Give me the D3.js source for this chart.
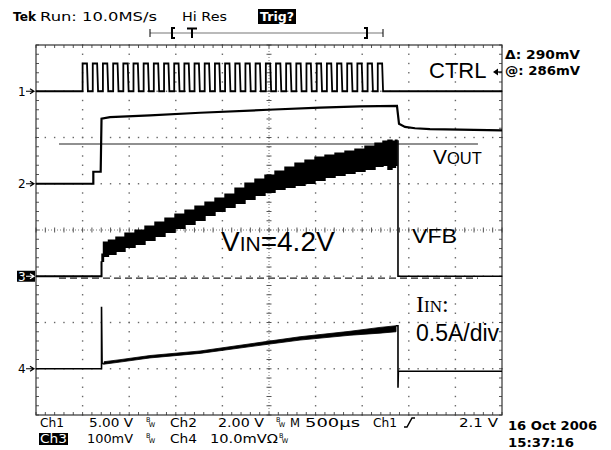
<!DOCTYPE html>
<html>
<head>
<meta charset="utf-8">
<script src="https://cdn.jsdelivr.net/npm/d3@7"></script>
<style>
  html, body { margin: 0; padding: 0; background: #fff; }
  svg { display: block; }
</style>
</head>
<body>
<svg id="scope" width="611" height="450"></svg>
<script>
// ---------------- acquisition data (time in ms, 500 µs/div) ----------------

// CH1 – CTRL pulse train (V)
const ctrlRiseMs = [0.500, 0.609, 0.718, 0.828, 0.937, 1.046, 1.155, 1.264, 1.374, 1.483,
                    1.592, 1.701, 1.810, 1.920, 2.029, 2.138, 2.247, 2.356, 2.466, 2.575,
                    2.684, 2.793, 2.902, 3.012, 3.121, 3.230, 3.339, 3.448, 3.558, 3.667];
const ctrlHighWidthMs = 0.053;
const ctrlHighV = 3.0;

// CH2 – VOUT (V)
const voutTimeMs = [0, 0.615, 0.615, 0.694, 0.703, 0.794, 1.223, 1.760, 2.489, 3.047, 3.476, 3.873,
                    3.895, 3.959, 4.067, 4.227, 4.549, 5.0];
const voutVolts  = [0, 0, 0.52, 0.52, 2.81, 2.88, 2.96, 3.07, 3.20, 3.29, 3.35, 3.37,
                    2.59, 2.46, 2.40, 2.36, 2.34, 2.31];

// CH3 – VFB ripple envelope (mV)
const vfbStartMs = 0.703;
const vfbEndMs = 3.884;
const vfbTimeMs = [0.708, 0.740, 0.815, 0.901, 1.009, 1.116, 1.223, 1.330, 1.438, 1.545,
                   1.652, 1.760, 1.867, 1.974, 2.082, 2.189, 2.296, 2.403, 2.511, 2.618,
                   2.725, 2.833, 2.940, 3.047, 3.155, 3.262, 3.369, 3.476, 3.584, 3.691,
                   3.755, 3.798, 3.841, 3.873];
const vfbUpperMv = [47.6, 73.5, 77.8, 84.3, 93.0, 99.5, 108.1, 116.8, 125.4, 134.0,
                    142.7, 151.3, 160.0, 168.6, 177.3, 190.3, 201.1, 209.7, 218.4, 227.0,
                    235.7, 244.3, 250.8, 257.3, 261.6, 265.9, 270.3, 274.6, 281.1, 287.5,
                    291.9, 294.0, 291.9, 294.0];
const vfbLowerMv = [32.4, 43.2, 47.6, 54.1, 62.7, 69.2, 77.8, 86.5, 95.1, 103.8,
                    112.4, 121.1, 131.9, 140.5, 149.2, 157.8, 166.5, 175.1, 181.6, 188.1,
                    192.4, 196.7, 201.1, 207.6, 214.0, 218.4, 222.7, 227.0, 231.3, 237.8,
                    240.0, 231.3, 235.7, 240.0];

// CH4 – IIN (A)
const iinStartMs = 0.703;
const iinSpikeA = 0.67;
const iinTimeMs = [0.730, 0.901, 1.223, 1.760, 2.489, 2.833, 3.369, 3.691, 3.863];
const iinUpperA = [0.076, 0.098, 0.143, 0.192, 0.297, 0.346, 0.405, 0.447, 0.465];
const iinLowerA = [0.050, 0.072, 0.117, 0.166, 0.265, 0.310, 0.362, 0.385, 0.400];
const iinEndMs = 3.884;
const iinUndershootA = -0.205;
const iinAfterA = -0.027;

// Cursors on CH3 (mV) and their horizontal extent (ms)
const cursorLevelsMv = [-4, 286];
const cursorSpanMs = [0.247, 4.742];

// Channel scale settings: units per division and ground marker position (div)
const chPerDiv = [5, 2, 100, 0.5];
const chGroundDiv = [3, 1, -1, -3];
const chMarkers = ["1", "2", "3", "4"];

// Readout texts
const headerTexts = ["Tek", "Run: 10.0MS/s", "Hi Res", "Trig?"];
const cursorTexts = ["\u0394: 290mV", "@: 286mV"];
const dateTexts = ["16 Oct 2006", "15:37:16"];

// ---------------- drawing ----------------
const svg = d3.select("#scope");
svg.append("rect").attr("width", 611).attr("height", 450).attr("fill", "#fff");

const x = d3.scaleLinear().domain([0, 5]).range([36, 502]);
const div = d3.scaleLinear().domain([-4, 4]).range([415, 45]);
function channelScale(i) {
  const p = chPerDiv[i], o = chGroundDiv[i];
  return d3.scaleLinear().domain([(-4 - o) * p, (4 - o) * p]).range([415, 45]);
}
const y1 = channelScale(0), y2 = channelScale(1), y3 = channelScale(2), y4 = channelScale(3);

// graticule
const grat = svg.append("g");
const stepsX = d3.range(0, 51).map(i => i * 0.1);
const stepsY = d3.range(0, 41).map(i => -4 + i * 0.2);
const majorX = d3.range(1, 10).filter(i => i !== 5).map(i => i * 0.5);
const majorY = [-3, -2, -1, 1, 2, 3];
const dots = [];
majorX.forEach(t => stepsY.forEach(d => dots.push([x(t), div(d)])));
majorY.forEach(d => stepsX.forEach(t => dots.push([x(t), div(d)])));
grat.selectAll("rect.dot").data(dots).join("rect").attr("class", "dot")
  .attr("x", d => d[0] - 0.7).attr("y", d => d[1] - 0.7)
  .attr("width", 1.4).attr("height", 1.4).attr("fill", "#666");

// centre axes with fine dots and minor ticks
grat.append("line").attr("x1", x(0)).attr("x2", x(5)).attr("y1", div(0)).attr("y2", div(0))
  .attr("stroke", "#777").attr("stroke-width", 1).attr("stroke-dasharray", "1,2");
grat.append("line").attr("x1", x(2.5)).attr("x2", x(2.5)).attr("y1", div(4)).attr("y2", div(-4))
  .attr("stroke", "#777").attr("stroke-width", 1).attr("stroke-dasharray", "1,2");
grat.selectAll("line.tx").data(stepsX).join("line").attr("class", "tx")
  .attr("x1", d => x(d)).attr("x2", d => x(d))
  .attr("y1", div(0) - 2.5).attr("y2", div(0) + 2.5).attr("stroke", "#555");
grat.selectAll("line.ty").data(stepsY).join("line").attr("class", "ty")
  .attr("y1", d => div(d)).attr("y2", d => div(d))
  .attr("x1", x(2.5) - 2.5).attr("x2", x(2.5) + 2.5).attr("stroke", "#555");

// frame with edge ticks
grat.selectAll("line.et").data(stepsX).join("line").attr("class", "et")
  .attr("x1", d => x(d)).attr("x2", d => x(d)).attr("y1", div(4)).attr("y2", div(4) + 3).attr("stroke", "#555");
grat.selectAll("line.eb").data(stepsX).join("line").attr("class", "eb")
  .attr("x1", d => x(d)).attr("x2", d => x(d)).attr("y1", div(-4)).attr("y2", div(-4) - 3).attr("stroke", "#555");
grat.selectAll("line.el").data(stepsY).join("line").attr("class", "el")
  .attr("y1", d => div(d)).attr("y2", d => div(d)).attr("x1", x(0)).attr("x2", x(0) + 3).attr("stroke", "#555");
grat.selectAll("line.er").data(stepsY).join("line").attr("class", "er")
  .attr("y1", d => div(d)).attr("y2", d => div(d)).attr("x1", x(5)).attr("x2", x(5) - 3).attr("stroke", "#555");
grat.append("rect").attr("x", x(0)).attr("y", div(4))
  .attr("width", x(5) - x(0)).attr("height", div(-4) - div(4))
  .attr("fill", "none").attr("stroke", "#333").attr("stroke-width", 1.2);

// cursors
svg.append("line").attr("x1", x(cursorSpanMs[0])).attr("x2", x(cursorSpanMs[1]))
  .attr("y1", y3(cursorLevelsMv[0])).attr("y2", y3(cursorLevelsMv[0]))
  .attr("stroke", "#222").attr("stroke-width", 1.2).attr("stroke-dasharray", "7,4");
svg.append("line").attr("x1", x(cursorSpanMs[0])).attr("x2", x(cursorSpanMs[1]))
  .attr("y1", y3(cursorLevelsMv[1])).attr("y2", y3(cursorLevelsMv[1]))
  .attr("stroke", "#222").attr("stroke-width", 1.2);

const traces = svg.append("g");
const line = d3.line();

// CH1 CTRL
const ctrlPts = [[0, 0]];
ctrlRiseMs.forEach(r => {
  ctrlPts.push([r, 0], [r, ctrlHighV], [r + ctrlHighWidthMs - 0.006, ctrlHighV], [r + ctrlHighWidthMs + 0.004, 0]);
});
ctrlPts.push([5, 0]);
traces.append("path").attr("d", line(ctrlPts.map(p => [x(p[0]), y1(p[1])])))
  .attr("fill", "none").attr("stroke", "#000").attr("stroke-width", 1.8).attr("stroke-linejoin", "miter");

// CH2 VOUT
traces.append("path").attr("d", line(voutTimeMs.map((t, i) => [x(t), y2(voutVolts[i])])))
  .attr("fill", "none").attr("stroke", "#000").attr("stroke-width", 2.2);

// CH3 VFB
traces.append("path").attr("d", line([[0, 0], [vfbStartMs, 0], [vfbStartMs, vfbLowerMv[0]]].map(p => [x(p[0]), y3(p[1])])))
  .attr("fill", "none").attr("stroke", "#000").attr("stroke-width", 2);
const vfbArea = d3.area().curve(d3.curveStep).x(d => x(d.t)).y0(d => y3(d.lo)).y1(d => y3(d.hi));
traces.append("path")
  .attr("d", vfbArea(vfbTimeMs.map((t, i) => ({ t, lo: vfbLowerMv[i], hi: vfbUpperMv[i] }))))
  .attr("fill", "#000").attr("stroke", "#000").attr("stroke-width", 1.4);
traces.append("path").attr("d", line([[vfbEndMs, vfbUpperMv[vfbUpperMv.length - 1]], [vfbEndMs, 0], [5, 0]].map(p => [x(p[0]), y3(p[1])])))
  .attr("fill", "none").attr("stroke", "#000").attr("stroke-width", 1.6);

// CH4 IIN
traces.append("path").attr("d", line([[0, 0], [iinStartMs, 0], [iinStartMs, iinSpikeA], [iinStartMs + 0.006, iinLowerA[0] + 0.01], [iinTimeMs[0], iinLowerA[0]]].map(p => [x(p[0]), y4(p[1])])))
  .attr("fill", "none").attr("stroke", "#000").attr("stroke-width", 1.6);
const iinArea = d3.area().x(d => x(d.t)).y0(d => y4(d.lo)).y1(d => y4(d.hi));
traces.append("path")
  .attr("d", iinArea(iinTimeMs.map((t, i) => ({ t, lo: iinLowerA[i], hi: iinUpperA[i] }))))
  .attr("fill", "#000").attr("stroke", "#000").attr("stroke-width", 0.8);
traces.append("path").attr("d", line([[iinTimeMs[iinTimeMs.length - 1], iinUpperA[iinUpperA.length - 1]], [iinEndMs, iinUpperA[iinUpperA.length - 1]],
  [iinEndMs, iinUndershootA], [iinEndMs + 0.004, iinAfterA], [5, iinAfterA]].map(p => [x(p[0]), y4(p[1])])))
  .attr("fill", "none").attr("stroke", "#000").attr("stroke-width", 1.6);

// ground markers
const mono = "DejaVu Sans";
chMarkers.forEach((m, i) => {
  const gy = div(chGroundDiv[i]);
  const inv = m === "3";
  if (inv) svg.append("rect").attr("x", 17).attr("y", gy - 5.5).attr("width", 18).attr("height", 11).attr("fill", "#000");
  svg.append("text").attr("x", 18).attr("y", gy + 4.5).text(m)
    .attr("font-family", mono).attr("font-size", 12).attr("fill", inv ? "#fff" : "#000");
  svg.append("path").attr("d", `M26,${gy}H33M30,${gy - 2.5}L34,${gy}L30,${gy + 2.5}`)
    .attr("fill", "none").attr("stroke", inv ? "#fff" : "#000").attr("stroke-width", 1.2);
});

// header
svg.append("text").attr("x", 13).attr("y", 21).text(headerTexts[0])
  .attr("font-family", mono).attr("font-weight", "bold").attr("font-size", 12.5)
  .attr("textLength", 23).attr("lengthAdjust", "spacingAndGlyphs");
svg.append("text").attr("x", 40).attr("y", 21).text(headerTexts[1])
  .attr("font-family", mono).attr("font-size", 12.5).attr("textLength", 117).attr("lengthAdjust", "spacingAndGlyphs");
svg.append("text").attr("x", 182).attr("y", 21).text(headerTexts[2])
  .attr("font-family", mono).attr("font-size", 12.5).attr("textLength", 45).attr("lengthAdjust", "spacingAndGlyphs");
svg.append("rect").attr("x", 258).attr("y", 9).attr("width", 38).attr("height", 15).attr("fill", "#000");
svg.append("text").attr("x", 260).attr("y", 21).text(headerTexts[3])
  .attr("font-family", mono).attr("font-weight", "bold").attr("font-size", 12).attr("fill", "#fff")
  .attr("textLength", 34).attr("lengthAdjust", "spacingAndGlyphs");

// record bracket
const br = svg.append("g").attr("stroke", "#000");
br.append("line").attr("x1", 150).attr("x2", 383).attr("y1", 33).attr("y2", 33).attr("stroke", "#777").attr("stroke-width", 1.2);
br.append("line").attr("x1", 150).attr("x2", 150).attr("y1", 29).attr("y2", 37).attr("stroke-width", 1);
br.append("line").attr("x1", 383).attr("x2", 383).attr("y1", 29).attr("y2", 37).attr("stroke-width", 1);
br.append("path").attr("d", "M175,28H172V38H175").attr("fill", "none").attr("stroke-width", 2);
br.append("path").attr("d", "M364,28H367V38H364").attr("fill", "none").attr("stroke-width", 2);
br.append("path").attr("d", "M187,28.5H197M192,28.5V38").attr("fill", "none").attr("stroke-width", 2);

// cursor readouts
svg.append("text").attr("x", 505).attr("y", 59).text(cursorTexts[0])
  .attr("font-family", mono).attr("font-weight", "bold").attr("font-size", 12).attr("textLength", 75).attr("lengthAdjust", "spacingAndGlyphs");
svg.append("text").attr("x", 505).attr("y", 75).text(cursorTexts[1])
  .attr("font-family", mono).attr("font-weight", "bold").attr("font-size", 12).attr("textLength", 75).attr("lengthAdjust", "spacingAndGlyphs");
svg.append("path").attr("d", "M493,72L498,68.5V75.5Z").attr("fill", "#000");
svg.append("line").attr("x1", 496).attr("x2", 502).attr("y1", 72).attr("y2", 72).attr("stroke", "#000").attr("stroke-width", 1.3);

// date
svg.append("text").attr("x", 508).attr("y", 430).text(dateTexts[0])
  .attr("font-family", mono).attr("font-weight", "bold").attr("font-size", 12.5).attr("textLength", 89).attr("lengthAdjust", "spacingAndGlyphs");
svg.append("text").attr("x", 508).attr("y", 446.5).text(dateTexts[1])
  .attr("font-family", mono).attr("font-weight", "bold").attr("font-size", 12.5).attr("textLength", 66).attr("lengthAdjust", "spacingAndGlyphs");

// bottom settings readout
function readout(txt, x0, y0, w, col) {
  const t = svg.append("text").attr("x", x0).attr("y", y0).text(txt)
    .attr("font-family", mono).attr("font-size", 12.5).attr("fill", col || "#000");
  if (w) t.attr("textLength", w).attr("lengthAdjust", "spacingAndGlyphs");
}
function bwMark(x0, y0) {
  const t = svg.append("text").attr("x", x0).attr("y", y0 - 5)
    .attr("font-family", mono).attr("font-size", 6.5);
  t.append("tspan").text("B");
  t.append("tspan").attr("dx", -1.5).attr("dy", 5).text("W");
}
readout("Ch1", 40, 427, 24);
readout("5.00 V", 89, 427, 44);
bwMark(146, 427);
readout("Ch2", 170, 427, 27);
readout("2.00 V", 218, 427, 46);
bwMark(276, 427);
readout("M", 290, 427, 10);
readout("500\u00b5s", 305, 427, 55);
readout("Ch1", 373, 427, 24);
svg.append("path").attr("d", "M404,427H407L412,418H415").attr("fill", "none").attr("stroke", "#000").attr("stroke-width", 1.5);
readout("2.1 V", 459, 427, 39);
svg.append("rect").attr("x", 39).attr("y", 433).attr("width", 29).attr("height", 12).attr("fill", "#000");
readout("Ch3", 40, 443, 27, "#fff");
readout("100mV", 87, 443, 46);
bwMark(146, 443);
readout("Ch4", 170, 443, 27);
readout("10.0mV\u03a9", 210, 443, 68);
bwMark(279, 443);

// annotations
const sans = "Liberation Sans";
svg.append("text").attr("x", 429).attr("y", 78).text("CTRL")
  .attr("font-family", sans).attr("font-size", 22);
const vout = svg.append("text").attr("x", 433).attr("y", 164).attr("font-family", sans).attr("font-size", 21);
vout.append("tspan").text("V");
vout.append("tspan").attr("font-size", 16.5).text("OUT");
svg.append("text").attr("x", 412).attr("y", 243).text("VFB")
  .attr("font-family", sans).attr("font-size", 21).attr("textLength", 45).attr("lengthAdjust", "spacingAndGlyphs");
const vin = svg.append("text").attr("x", 221).attr("y", 251).attr("font-family", sans).attr("font-size", 28);
vin.append("tspan").text("V");
vin.append("tspan").attr("font-size", 21).text("IN");
vin.append("tspan").text("=4.2V");
const iin = svg.append("text").attr("x", 416).attr("y", 312).attr("font-family", "Liberation Serif").attr("font-size", 24);
iin.append("tspan").text("I");
iin.append("tspan").attr("font-size", 17).text("IN");
iin.append("tspan").text(":");
svg.append("text").attr("x", 416).attr("y", 341).text("0.5A/div")
  .attr("font-family", sans).attr("font-size", 23);
</script>
</body>
</html>
